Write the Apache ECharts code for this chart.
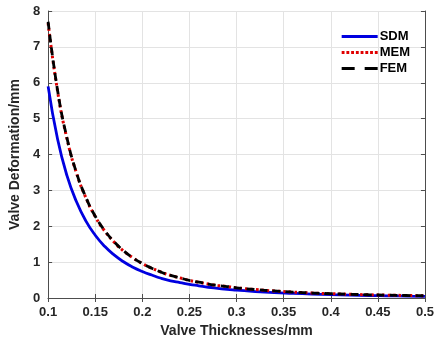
<!DOCTYPE html>
<html>
<head>
<meta charset="utf-8">
<script src="https://cdn.jsdelivr.net/npm/echarts@6/dist/echarts.min.js"></script>
<style>html,body{margin:0;padding:0;background:#fff;}#c{width:437px;height:345px;}</style>
</head>
<body>
<div id="c"></div>
<script>
const thickness = [0.10,0.11,0.12,0.13,0.14,0.15,0.16,0.17,0.18,0.19,0.20,0.21,0.22,0.23,0.24,0.25,0.26,0.27,0.28,0.29,0.30,0.32,0.34,0.36,0.38,0.40,0.42,0.44,0.46,0.48,0.50];
const sdm = [5.90,4.43,3.41,2.69,2.15,1.75,1.44,1.20,1.01,0.86,0.74,0.64,0.55,0.48,0.43,0.38,0.34,0.30,0.27,0.24,0.22,0.18,0.15,0.13,0.11,0.092,0.080,0.069,0.061,0.053,0.047];
const mem = [7.66,5.77,4.44,3.49,2.80,2.27,1.87,1.56,1.31,1.12,0.96,0.83,0.72,0.63,0.56,0.49,0.44,0.39,0.35,0.32,0.285,0.235,0.196,0.165,0.140,0.120,0.104,0.090,0.079,0.070,0.062];
const fem = [7.70,5.79,4.46,3.50,2.81,2.28,1.88,1.57,1.32,1.12,0.96,0.83,0.72,0.63,0.56,0.49,0.44,0.39,0.35,0.32,0.285,0.235,0.196,0.165,0.140,0.120,0.104,0.090,0.079,0.070,0.062];
const xTicks = ['0.1','0.15','0.2','0.25','0.3','0.35','0.4','0.45','0.5'];
const yTicks = ['0','1','2','3','4','5','6','7','8'];

const pairs = a => thickness.map((t,i)=>[t,a[i]]);
const font = 'Liberation Sans, Arial, sans-serif';
const axisCol = '#4d4d4d';
let dots = '';
for (let x = 0; x < 36; x += 5) dots += 'M' + x + ',0h3v3h-3z';
const chart = echarts.init(document.getElementById('c'), null, {renderer:'canvas'});
chart.setOption({
  animation:false,
  backgroundColor:'#fff',
  grid:{left:38,right:9,top:11,bottom:47,containLabel:false},
  legend:{
    right:22, top:25, orient:'vertical', itemWidth:36, itemHeight:3, itemGap:3,
    textStyle:{fontFamily:font,fontWeight:'bold',fontSize:13,color:'#000',padding:[0,0,0,-3]},
    data:[
      {name:'SDM',icon:'path://M0,0H36V3H0Z',itemStyle:{color:'#0000e0'}},
      {name:'MEM',icon:'path://'+dots,itemStyle:{color:'#e00000'}},
      {name:'FEM',icon:'path://M0,0h13v3h-13zM23,0h13v3h-13z',itemStyle:{color:'#000'}}
    ]
  },
  xAxis:[{
    type:'value', min:0.1, max:0.5, interval:0.05,
    name:'Valve Thicknesses/mm', nameLocation:'middle', nameGap:26,
    nameTextStyle:{fontFamily:font,fontWeight:'bold',fontSize:14,color:'#262626'},
    axisLine:{show:true,lineStyle:{color:axisCol,width:1}},
    axisTick:{show:true,inside:true,length:4,lineStyle:{color:axisCol}},
    axisLabel:{fontFamily:font,fontWeight:'bold',fontSize:13,color:'#262626',margin:8,
      formatter:(v)=>{const i=Math.round((v-0.1)/0.05);return xTicks[i]!==undefined?xTicks[i]:'';}},
    splitLine:{show:true,lineStyle:{color:'#e3e3e3',width:1}}
  },{
    type:'value', position:'top', min:0.1, max:0.5, interval:0.05,
    axisLine:{show:true,lineStyle:{color:axisCol,width:1}},
    axisTick:{show:true,inside:true,length:4,lineStyle:{color:axisCol}},
    axisLabel:{show:false}, splitLine:{show:false}
  }],
  yAxis:[{
    type:'value', min:0, max:8, interval:1,
    name:'Valve Deformation/mm', nameLocation:'middle', nameGap:23,
    nameTextStyle:{fontFamily:font,fontWeight:'bold',fontSize:14,color:'#262626'},
    axisLine:{show:true,lineStyle:{color:axisCol,width:1}},
    axisTick:{show:true,inside:true,length:4,lineStyle:{color:axisCol}},
    axisLabel:{fontFamily:font,fontWeight:'bold',fontSize:13,color:'#262626',margin:8,
      formatter:(v)=>yTicks[Math.round(v)]},
    splitLine:{show:true,lineStyle:{color:'#e3e3e3',width:1}}
  },{
    type:'value', position:'right', min:0, max:8, interval:1,
    axisLine:{show:true,lineStyle:{color:axisCol,width:1}},
    axisTick:{show:true,inside:true,length:4,lineStyle:{color:axisCol}},
    axisLabel:{show:false}, splitLine:{show:false}
  }],
  series:[
    {name:'SDM',type:'line',smooth:true,showSymbol:false,symbol:'none',data:pairs(sdm),z:2,
      lineStyle:{color:'#0000e0',width:2.8,type:'solid'},itemStyle:{color:'#0000e0'}},
    {name:'MEM',type:'line',smooth:true,showSymbol:false,symbol:'none',data:pairs(mem),z:3,
      lineStyle:{color:'#e00000',width:3,type:[2.5,3]},itemStyle:{color:'#e00000'}},
    {name:'FEM',type:'line',smooth:true,showSymbol:false,symbol:'none',data:pairs(fem),z:4,
      lineStyle:{color:'#000',width:2.8,type:[8,5]},itemStyle:{color:'#000'}}
  ]
});
</script>
</body>
</html>
